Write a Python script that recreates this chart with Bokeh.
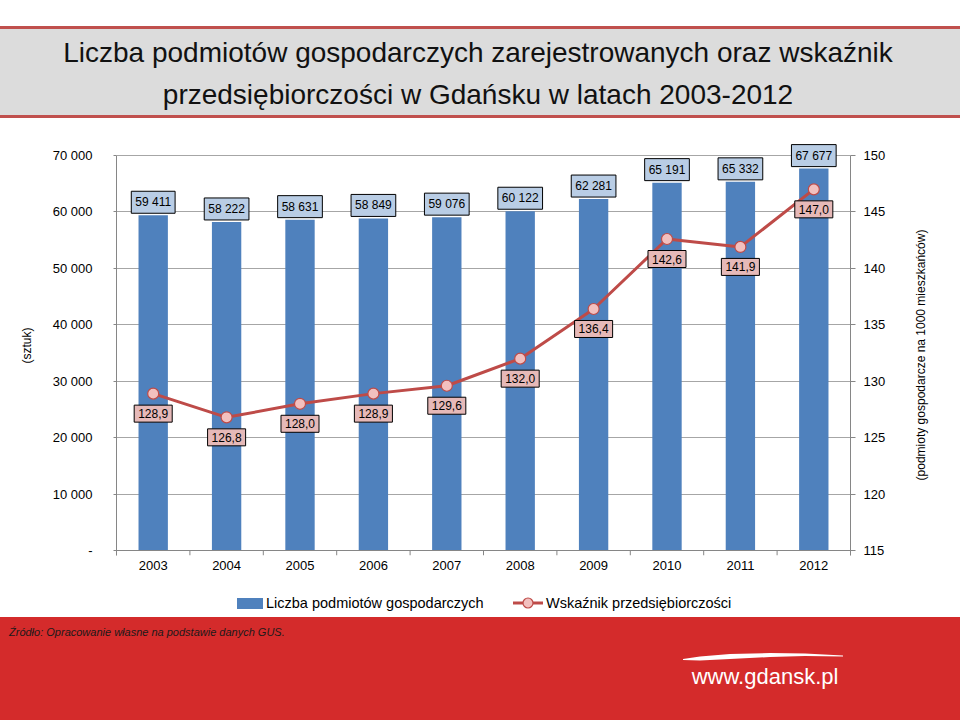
from bokeh.plotting import figure
from bokeh.models import (Range1d, FactorRange, LinearAxis, FixedTicker, ColumnDataSource,
                          Label, Span, Div)
from bokeh.layouts import column, row
from bokeh.embed import file_html
from bokeh.resources import INLINE

# ---------------- data ----------------
years = ["2003", "2004", "2005", "2006", "2007", "2008", "2009", "2010", "2011", "2012"]
podmioty = [59411, 58222, 58631, 58849, 59076, 60122, 62281, 65191, 65332, 67677]
wskaznik = [128.9, 126.8, 128.0, 128.9, 129.6, 132.0, 136.4, 142.6, 141.9, 147.0]

left_ticks = [0, 10000, 20000, 30000, 40000, 50000, 60000, 70000]
left_tick_labels = ["-", "10 000", "20 000", "30 000", "40 000", "50 000", "60 000", "70 000"]
right_ticks = [115, 120, 125, 130, 135, 140, 145, 150]

title_lines = ["Liczba podmiotów gospodarczych zarejestrowanych oraz wskaźnik",
               "przedsiębiorczości w Gdańsku w latach 2003-2012"]
series_names = ["Liczba podmiotów gospodarczych", "Wskaźnik przedsiębiorczości"]
left_title = "(sztuk)"
right_title = "(podmioty gospodarcze na 1000 mieszkańców)"
source_note = "Źródło: Opracowanie własne na podstawie danych GUS."
logo_text = "www.gdansk.pl"

FONT = "Liberation Sans"
BAR = "#4F81BD"
LINE = "#BE4B48"
MARK = "#F2C0BF"
AXIS = "#868686"
GRID = "#A6A6A6"
RED_LINE = "#C0504D"
RED_BG = "#D42B2B"
W = 960

# ---------------- title band (HTML) ----------------
title_html = f"""
<div style="position:relative;width:{W}px;height:120px;background:white;overflow:hidden;
            font-family:'{FONT}';">
  <div style="position:absolute;left:0;top:26px;width:{W}px;height:3px;background:{RED_LINE};"></div>
  <div style="position:absolute;left:0;top:29px;width:{W}px;height:86px;background:#DCDCDC;"></div>
  <div style="position:absolute;left:0;top:115px;width:{W}px;height:3px;background:{RED_LINE};"></div>
  <div style="position:absolute;left:0;top:32px;width:956px;text-align:center;font-size:28px;
              line-height:42px;color:#111;white-space:nowrap;">{title_lines[0]}</div>
  <div style="position:absolute;left:0;top:74px;width:956px;text-align:center;font-size:28px;
              line-height:42px;color:#111;white-space:nowrap;">{title_lines[1]}</div>
</div>"""
title_div = Div(text=title_html, width=W, height=120, margin=0)

# ---------------- chart ----------------
src = ColumnDataSource(dict(
    year=years, count=podmioty, wsk=wskaznik,
    count_lbl=[f"{v:,}".replace(",", " ") for v in podmioty],
    wsk_lbl=[f"{v:.1f}".replace(".", ",") for v in wskaznik],
))

PLOT_PX = 395   # pixels between the lowest and the highest tick
BOT_PX = 5      # room for category-boundary ticks under the axis
TOP_PX = 20     # headroom for the value boxes above the top tick
l_lo, l_hi = left_ticks[0], left_ticks[-1]
r_lo, r_hi = right_ticks[0], right_ticks[-1]
l_unit = (l_hi - l_lo) / PLOT_PX
r_unit = (r_hi - r_lo) / PLOT_PX

CHART_W = 914
CHART_H = 465
p = figure(width=CHART_W, height=CHART_H, x_range=FactorRange(*years),
           y_range=Range1d(l_lo - BOT_PX * l_unit, l_hi + TOP_PX * l_unit),
           toolbar_location=None, output_backend="svg",
           min_border_left=116, min_border_right=CHART_W - 850, min_border_top=15,
           min_border_bottom=30, outline_line_color=None)
p.extra_y_ranges = {"r": Range1d(r_lo - BOT_PX * r_unit, r_hi + TOP_PX * r_unit)}

p.xgrid.grid_line_color = None
p.ygrid.ticker = FixedTicker(ticks=left_ticks)
p.ygrid.grid_line_color = GRID

xa = p.xaxis[0]
xa.axis_line_color = None
xa.major_tick_line_color = None
xa.major_tick_out = 0
xa.major_tick_in = 0
xa.minor_tick_line_color = None
xa.major_label_text_font = FONT
xa.major_label_text_font_size = "13px"
xa.major_label_text_color = "black"
xa.major_label_standoff = 5

ya = p.yaxis[0]
ya.ticker = FixedTicker(ticks=left_ticks)
ya.bounds = (l_lo - BOT_PX * l_unit, l_hi)
ya.major_label_overrides = dict(zip(left_ticks, left_tick_labels))
ya.axis_line_color = AXIS
ya.major_tick_line_color = AXIS
ya.major_tick_out = 3
ya.major_tick_in = 0
ya.minor_tick_line_color = None
ya.major_label_text_font = FONT
ya.major_label_text_font_size = "13px"
ya.major_label_text_color = "black"
ya.major_label_standoff = 21
ya.axis_label = left_title
ya.axis_label_text_font = FONT
ya.axis_label_text_font_size = "12px"
ya.axis_label_text_font_style = "normal"
ya.axis_label_text_color = "black"
ya.axis_label_standoff = 16

ra = LinearAxis(y_range_name="r", ticker=FixedTicker(ticks=right_ticks),
                bounds=(r_lo - BOT_PX * r_unit, r_hi),
                axis_line_color=AXIS, major_tick_line_color=AXIS, major_tick_out=5,
                major_tick_in=0, minor_tick_line_color=None,
                major_label_text_font=FONT, major_label_text_font_size="13px",
                major_label_text_color="black", major_label_standoff=8)
p.add_layout(ra, "right")

# horizontal axis line at zero and ticks at the category boundaries
p.add_layout(Span(location=0, dimension="width", line_color=AXIS, line_width=1))
bounds = [(y, -0.5) for y in years] + [(years[-1], 0.5)]
p.segment(x0=bounds, y0=[0] * len(bounds), x1=bounds,
          y1=[l_lo - BOT_PX * l_unit] * len(bounds), line_color=AXIS, line_width=1)

bars = p.vbar(x="year", top="count", width=0.4, source=src, fill_color=BAR, line_color=None)
ln = p.line(x="year", y="wsk", y_range_name="r", source=src, line_color=LINE, line_width=3)
pts = p.scatter(x="year", y="wsk", y_range_name="r", source=src, size=11,
                fill_color=MARK, line_color=LINE, line_width=1.2)

# synthetic (numeric) position of each category centre on the factor range
cat_pos = {y: years.index(y) + 0.5 for y in years}


def value_boxes(xs, ys, texts, y_off, fill, range_name="default"):
    for x, y, s in zip(xs, ys, texts):
        p.add_layout(Label(x=cat_pos[x], y=y, text=s, y_range_name=range_name,
                           y_offset=y_off, text_align="center", text_baseline="middle",
                           text_font=FONT, text_font_size="12px", text_color="black",
                           background_fill_color=fill, border_line_color="black",
                           border_line_width=1, padding=4))


value_boxes(years, podmioty, src.data["count_lbl"], 13, "#B9CDE5")
value_boxes(years, wskaznik, src.data["wsk_lbl"], -20, "#E6B9B8", "r")

# right axis title, reading bottom-to-top
rlabel_html = f"""
<div style="position:relative;width:{W - CHART_W}px;height:{CHART_H}px;overflow:hidden;
            font-family:'{FONT}';">
  <div style="position:absolute;left:{922 - CHART_W}px;top:235px;
              transform:translate(-50%,-50%) rotate(-90deg);white-space:nowrap;
              font-size:12px;color:black;">{right_title}</div>
</div>"""
rlabel_div = Div(text=rlabel_html, width=W - CHART_W, height=CHART_H, margin=0)

# ---------------- legend + footer (HTML) ----------------
FOOT_H = 720 - 120 - CHART_H   # 135: white legend strip (32 px) + red footer
swoosh_x = [683, 700, 730, 770, 805, 843, 843, 805, 770, 730, 700, 683]
swoosh_y = [74, 71.5, 69, 68, 68.5, 70.5, 71.5, 71, 72, 74, 75.5, 75]
pts_str = " ".join(f"{x},{y}" for x, y in zip(swoosh_x, swoosh_y))
footer_html = f"""
<div style="position:relative;width:{W}px;height:{FOOT_H}px;background:white;overflow:hidden;
            font-family:'{FONT}';">
  <div style="position:absolute;left:237px;top:13px;width:26px;height:11px;background:{BAR};"></div>
  <div style="position:absolute;left:266px;top:9px;font-size:14.5px;line-height:18px;
              color:black;white-space:nowrap;">{series_names[0]}</div>
  <svg style="position:absolute;left:0;top:0;" width="{W}" height="32">
    <line x1="513" y1="18" x2="543" y2="18" stroke="{LINE}" stroke-width="3"/>
    <circle cx="528" cy="18" r="5" fill="{MARK}" stroke="{LINE}" stroke-width="1.2"/>
  </svg>
  <div style="position:absolute;left:546px;top:9px;font-size:14.5px;line-height:18px;
              color:black;white-space:nowrap;">{series_names[1]}</div>
  <div style="position:absolute;left:0;top:32px;width:{W}px;height:{FOOT_H - 32}px;
              background:{RED_BG};"></div>
  <div style="position:absolute;left:9px;top:40px;font-size:11px;line-height:14px;
              font-style:italic;color:#1a1a1a;white-space:nowrap;">{source_note}</div>
  <svg style="position:absolute;left:0;top:0;" width="{W}" height="{FOOT_H}">
    <polygon points="{pts_str}" fill="white"/>
  </svg>
  <div style="position:absolute;left:665px;top:79px;width:200px;text-align:center;
              font-size:22px;line-height:26px;color:white;white-space:nowrap;">{logo_text}</div>
</div>"""
footer_div = Div(text=footer_html, width=W, height=FOOT_H, margin=0)

layout = column(title_div, row(p, rlabel_div, spacing=0), footer_div, spacing=0)
open("out.html", "w").write(file_html(layout, INLINE))
